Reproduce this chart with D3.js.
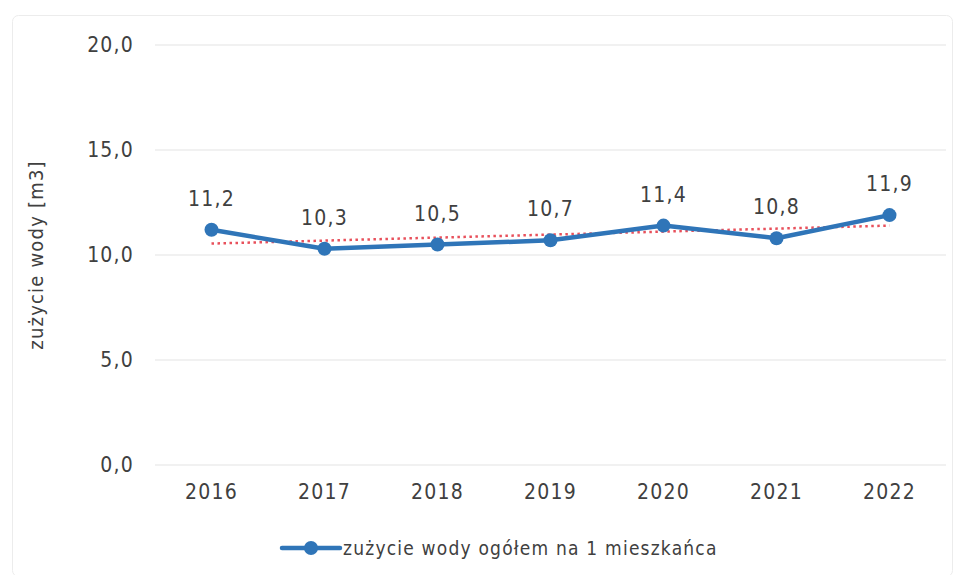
<!DOCTYPE html>
<html>
<head>
<meta charset="utf-8">
<script src="https://cdn.jsdelivr.net/npm/d3@7"></script>
<style>
  body { margin: 0; background: #fff; }
  svg { font-family: "Liberation Sans Narrow", "DejaVu Sans Condensed", sans-serif; }
</style>
</head>
<body>
<div id="chart"></div>
<script>
// data
const years = ["2016", "2017", "2018", "2019", "2020", "2021", "2022"];
const usage = [11.2, 10.3, 10.5, 10.7, 11.4, 10.8, 11.9];
const yTicks = [0, 5, 10, 15, 20];
const seriesName = "zużycie wody ogółem na 1 mieszkańca";
const yLabel = "zużycie wody [m3]";

const W = 965, H = 575;
const margin = { top: 45, right: 19, bottom: 110, left: 155 },
    width = W - margin.left - margin.right,
    height = H - margin.top - margin.bottom;

const fmt = d => d3.format(".1f")(d).replace(".", ",");
const txt = "#404040";
const font = "'Liberation Sans Narrow', 'DejaVu Sans Condensed', sans-serif";

const root = d3.select("#chart").append("svg")
    .attr("width", W).attr("height", H);

// outer frame
root.append("rect")
    .attr("x", 12.5).attr("y", 15.5)
    .attr("width", W - 25).attr("height", H - 14)
    .attr("rx", 6)
    .attr("fill", "none")
    .attr("stroke", "#ececec");

const svg = root.append("g")
    .attr("transform", `translate(${margin.left},${margin.top})`);

const x = d3.scaleBand().domain(years).range([0, width]);
const y = d3.scaleLinear().domain([0, 20]).range([height, 0]);

// grid
svg.selectAll("line.grid")
    .data(yTicks)
    .enter().append("line")
    .attr("class", "grid")
    .attr("x1", 0).attr("x2", width)
    .attr("y1", d => y(d)).attr("y2", d => y(d))
    .attr("stroke", "#e4e4e4")
    .attr("stroke-width", 1.2);

// y axis labels
const yAxis = svg.append("g")
    .call(d3.axisLeft(y).tickValues(yTicks).tickFormat(fmt).tickSize(0).tickPadding(21));
yAxis.select(".domain").remove();
yAxis.selectAll("text")
    .attr("font-size", 21).attr("fill", txt)
    .attr("letter-spacing", 1.2)
    .attr("font-family", font);

// x axis labels
const xAxis = svg.append("g")
    .attr("transform", `translate(0,${height})`)
    .call(d3.axisBottom(x).tickSize(0).tickPadding(19));
xAxis.select(".domain").remove();
xAxis.selectAll("text")
    .attr("font-size", 21).attr("fill", txt)
    .attr("letter-spacing", 1.2)
    .attr("font-family", font);

// y label
svg.append("text")
    .attr("transform", `translate(${37 - margin.left},${height / 2}) rotate(-90)`)
    .attr("text-anchor", "middle")
    .attr("dominant-baseline", "middle")
    .attr("font-size", 20)
    .attr("letter-spacing", 1.2)
    .attr("fill", txt)
    .text(yLabel);

const cx = d => x(d) + x.bandwidth() / 2;

// linear trendline (least squares fit)
const idx = usage.map((d, i) => i);
const mx = d3.mean(idx), my = d3.mean(usage);
const slope = d3.sum(idx, i => (i - mx) * (usage[i] - my)) / d3.sum(idx, i => (i - mx) * (i - mx));
const icpt = my - slope * mx;
svg.append("line")
    .attr("x1", cx(years[0])).attr("x2", cx(years[years.length - 1]))
    .attr("y1", y(icpt)).attr("y2", y(icpt + slope * (years.length - 1)))
    .attr("stroke", "#e8505b")
    .attr("stroke-width", 2.5)
    .attr("stroke-dasharray", "2.5,3.5");

// series line
const line = d3.line()
    .x((d, i) => cx(years[i]))
    .y(d => y(d));

svg.append("path")
    .datum(usage)
    .attr("d", line)
    .attr("fill", "none")
    .attr("stroke", "#2f75b8")
    .attr("stroke-width", 4.5)
    .attr("stroke-linejoin", "round");

svg.selectAll("circle.pt")
    .data(usage)
    .enter().append("circle")
    .attr("class", "pt")
    .attr("cx", (d, i) => cx(years[i]))
    .attr("cy", d => y(d))
    .attr("r", 7)
    .attr("fill", "#2f75b8");

svg.selectAll("text.lbl")
    .data(usage)
    .enter().append("text")
    .attr("class", "lbl")
    .attr("x", (d, i) => cx(years[i]))
    .attr("y", d => y(d) - 24)
    .attr("text-anchor", "middle")
    .attr("font-size", 21)
    .attr("letter-spacing", 1.2)
    .attr("fill", txt)
    .text(fmt);

// legend
const lg = root.append("g").attr("transform", "translate(282,548)");
lg.append("line")
    .attr("x1", 0).attr("x2", 58)
    .attr("stroke", "#2f75b8").attr("stroke-width", 4.5)
    .attr("stroke-linecap", "round");
lg.append("circle").attr("cx", 29).attr("r", 7).attr("fill", "#2f75b8");
lg.append("text")
    .attr("x", 61).attr("dy", "0.35em")
    .attr("font-size", 19)
    .attr("letter-spacing", 1.2)
    .attr("fill", txt)
    .text(seriesName);
</script>
</body>
</html>
